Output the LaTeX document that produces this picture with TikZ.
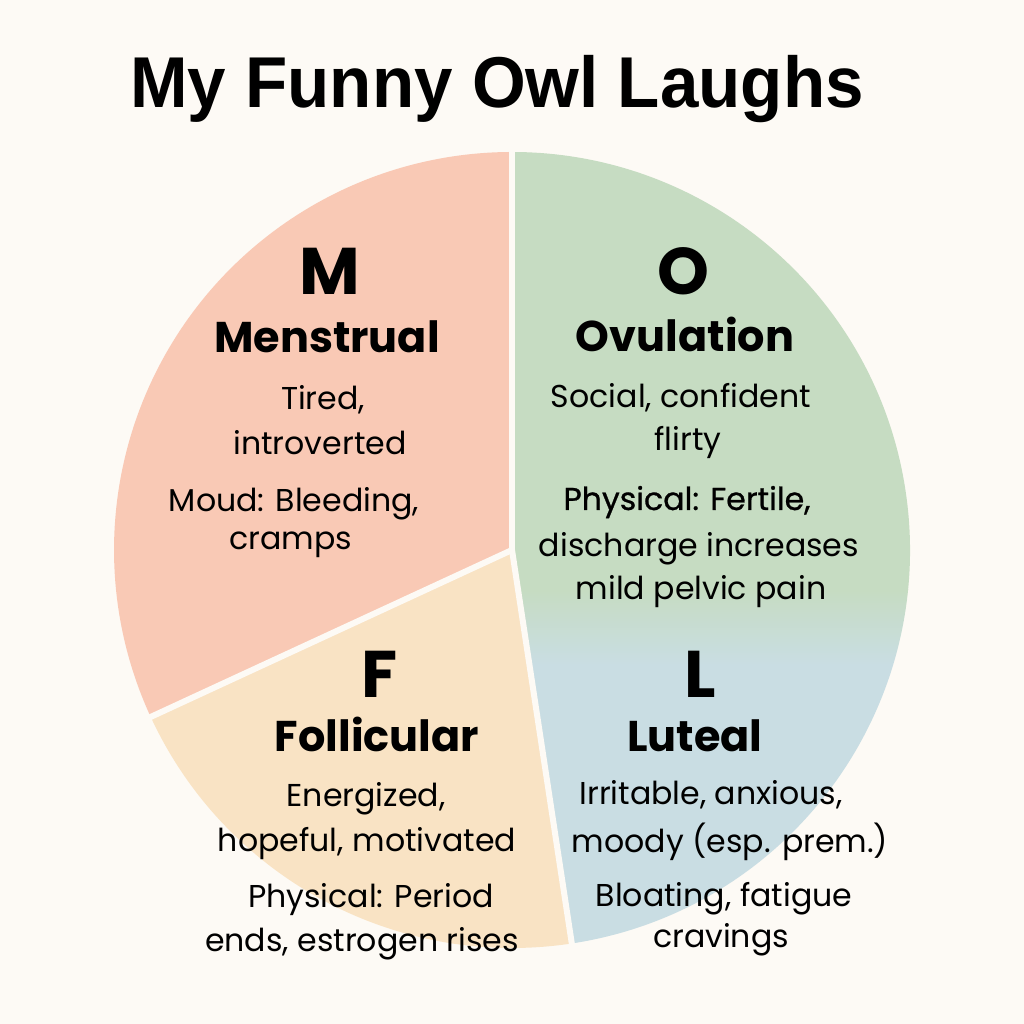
\documentclass[tikz,border=0pt]{standalone}
\usepackage{fontspec}
\usepackage{graphicx}
\usetikzlibrary{calc}
\newfontfamily\titlefont{Liberation Sans}
\newfontfamily\pop{Poppins}
\newfontfamily\popfb{Poppins}[FakeBold=0.8]
\definecolor{bgc}{HTML}{FDFAF5}
\definecolor{mcol}{HTML}{F9C9B5}
\definecolor{ocol}{HTML}{C6DCC2}
\definecolor{lcol}{HTML}{C9DDE3}
\definecolor{fcol}{HTML}{F9E3C4}
\tikzset{
  txt/.style={inner sep=0pt, anchor=base, text=black},
  big/.style={txt, font=\pop\bfseries\fontsize{66}{70}\selectfont},
  head/.style={txt, font=\pop\bfseries\fontsize{43}{48}\selectfont},
  body/.style={txt, font=\pop\fontsize{31.6}{36}\selectfont},
  bodyb/.style={txt, font=\popfb\fontsize{31.6}{36}\selectfont},
  sep/.style={draw=bgc, line width=6pt, line cap=butt},
}
\begin{document}
\begin{tikzpicture}[x=1pt,y=1pt]
\fill[bgc] (0,0) rectangle (1024,1024);
\useasboundingbox (0,0) rectangle (1024,1024);
% pie geometry
\coordinate (c) at (512,474);
\coordinate (ptop) at ($(c)+(90:404)$);
\coordinate (pleft) at ($(c)+(204.8:404)$);
\coordinate (pbot) at ($(c)+(-81.36:404)$);
% M sector
\fill[mcol] (c) -- ++(90:398) arc[start angle=90, end angle=204.8, radius=398] -- cycle;
% F sector
\fill[fcol] (c) -- ++(204.8:398) arc[start angle=204.8, end angle=278.64, radius=398] -- cycle;
% O / L sector with gradient
\begin{scope}
  \clip (c) -- ++(-81.36:398) arc[start angle=-81.36, end angle=90, radius=398] -- cycle;
  \fill[ocol] (100,434) rectangle (950,900);
  \shade[top color=ocol, bottom color=lcol] (100,359) rectangle (950,434);
  \fill[lcol] (100,50) rectangle (950,359);
\end{scope}
% separators
\draw[sep] (c) -- (ptop);
\draw[sep] (c) -- (pleft);
\draw[sep] (c) -- (pbot);
% title
\node[txt, font=\titlefont\bfseries\fontsize{72}{80}\selectfont] (title) at (497,916) {\scalebox{0.96}[1]{My Funny Owl Laughs}};
% M
\node[big] (mL) at (330,729) {M};
\node[head] (mH) at (327,671) {Menstrual};
\node[body] (m1) at (323,614) {Tired,};
\node[body] (m2) at (320,569) {introverted};
\node[body] (m3) at (294,512) {Moud: Bleeding,};
\node[body] (m4) at (291,474) {cramps};
% O
\node[big] (oL) at (683,729) {O};
\node[head] (oH) at (685,672) {Ovulation};
\node[body] (o1) at (681,616) {Social, confident};
\node[body] (o2) at (688,573) {flirty};
\node[bodyb] (o3) at (687,514) {Physical: Fertile,};
\node[body] (o4) at (699,467) {discharge increases};
\node[body] (o5) at (701,424) {mild pelvic pain};
% F
\node[big] (fL) at (380,326) {F};
\node[head] (fH) at (377,272) {Follicular};
\node[body] (f1) at (366,217) {Energized,};
\node[body] (f2) at (367,172) {hopeful, motivated};
\node[body] (f3) at (371,116) {Physical: Period};
\node[body] (f4) at (362,72) {ends, estrogen rises};
% L
\node[big] (lL) at (700,326) {L};
\node[head] (lH) at (695,272) {Luteal};
\node[body] (l1) at (711,219) {Irritable, anxious,};
\node[body] (l2) at (730,171) {moody (esp. prem.)};
\node[body] (l3) at (724,117) {Bloating, fatigue};
\node[body] (l4) at (721,76) {cravings};
\end{tikzpicture}
\end{document}
